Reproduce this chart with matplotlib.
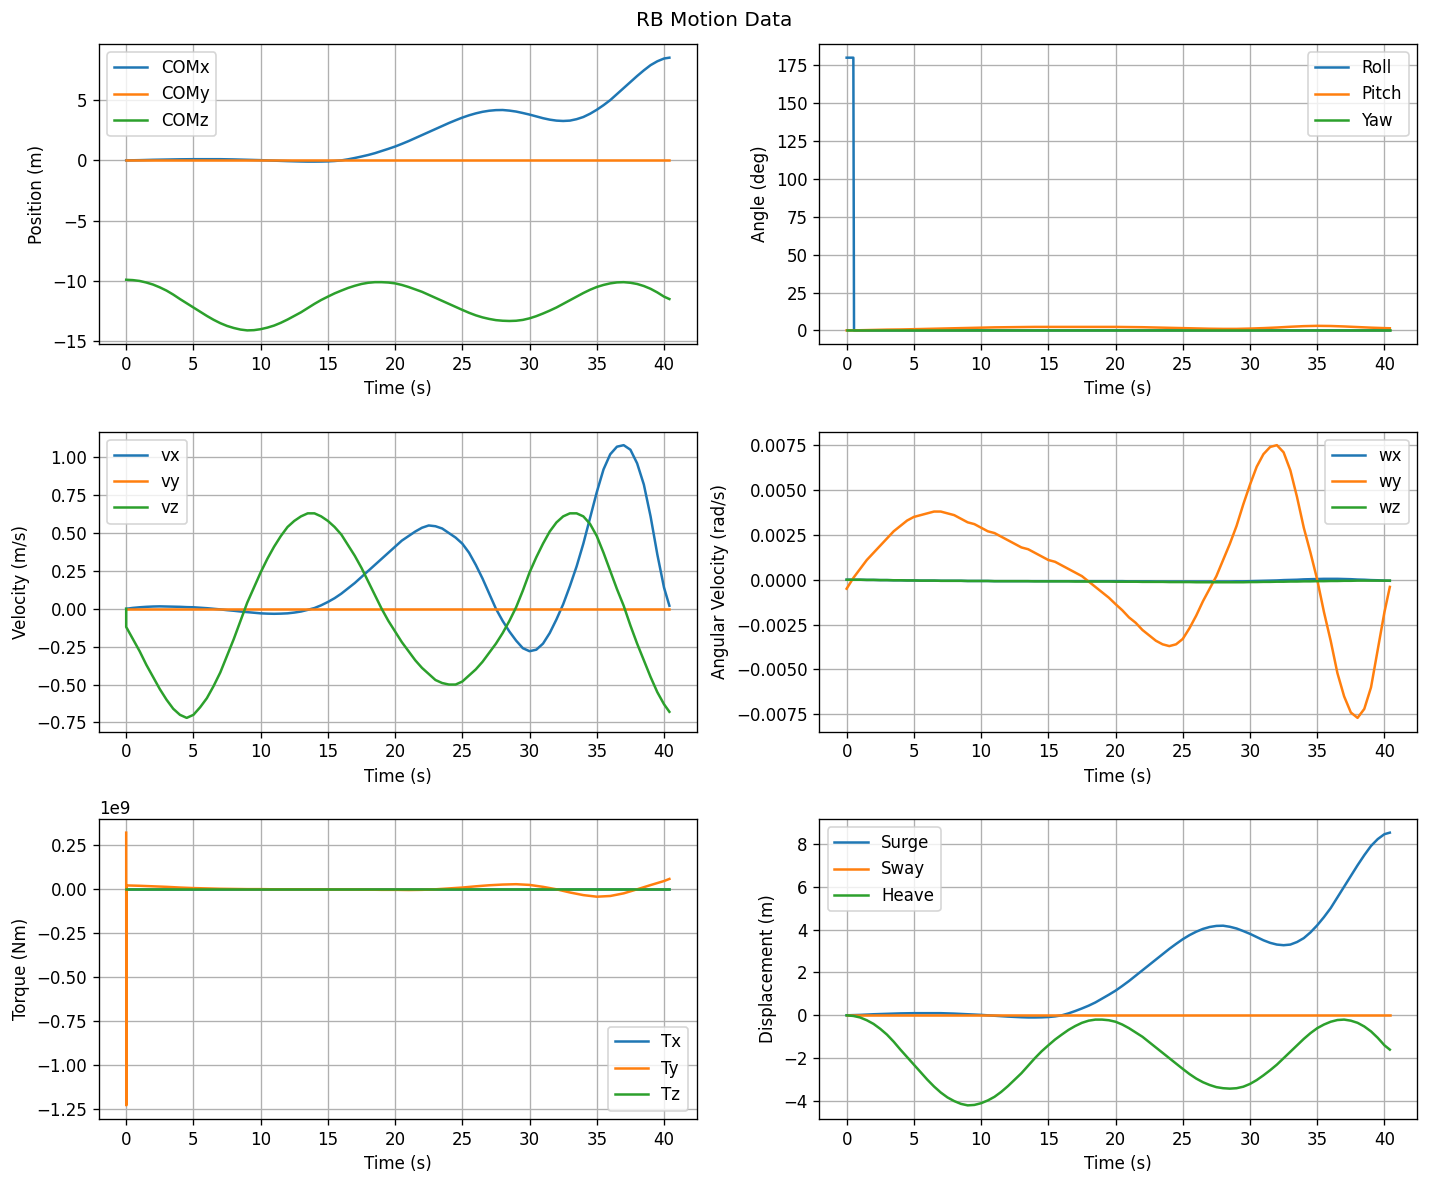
import matplotlib
matplotlib.use('Agg')
import matplotlib.pyplot as plt

# sampled time base (s), half-second readings
t = [0, 0.5, 1, 1.5, 2, 2.5, 3, 3.5, 4, 4.5, 5, 5.5, 6, 6.5, 7, 7.5, 8, 8.5, 9, 9.5,
     10, 10.5, 11, 11.5, 12, 12.5, 13, 13.5, 14, 14.5, 15, 15.5, 16, 16.5, 17, 17.5, 18, 18.5, 19, 19.5,
     20, 20.5, 21, 21.5, 22, 22.5, 23, 23.5, 24, 24.5, 25, 25.5, 26, 26.5, 27, 27.5, 28, 28.5, 29, 29.5,
     30, 30.5, 31, 31.5, 32, 32.5, 33, 33.5, 34, 34.5, 35, 35.5, 36, 36.5, 37, 37.5, 38, 38.5, 39, 39.5,
     40, 40.4]
n = len(t)

# position (m)
com_x = [0.0, 0.01, 0.02, 0.035, 0.05, 0.06, 0.07, 0.08, 0.09, 0.095,
         0.1, 0.1, 0.1, 0.1, 0.1, 0.09, 0.08, 0.065, 0.05, 0.035,
         0.02, 0.0, -0.02, -0.04, -0.06, -0.075, -0.09, -0.1, -0.1, -0.095,
         -0.08, -0.05, 0.0, 0.09, 0.2, 0.32, 0.45, 0.6, 0.78, 0.96,
         1.15, 1.37, 1.6, 1.85, 2.1, 2.35, 2.6, 2.85, 3.1, 3.33,
         3.55, 3.74, 3.9, 4.03, 4.12, 4.17, 4.18, 4.13, 4.05, 3.93,
         3.8, 3.65, 3.5, 3.38, 3.3, 3.27, 3.3, 3.42, 3.6, 3.87,
         4.2, 4.58, 5.0, 5.5, 6.0, 6.5, 7.0, 7.47, 7.9, 8.22,
         8.45, 8.52]
com_y = [0.0] * n
com_z = [-9.9, -9.93, -10.0, -10.13, -10.3, -10.53, -10.8, -11.13, -11.5, -11.85,
         -12.2, -12.55, -12.9, -13.22, -13.5, -13.73, -13.9, -14.03, -14.1, -14.08,
         -14.0, -13.87, -13.7, -13.47, -13.2, -12.9, -12.6, -12.25, -11.9, -11.58,
         -11.3, -11.03, -10.8, -10.58, -10.4, -10.25, -10.15, -10.1, -10.1, -10.13,
         -10.2, -10.33, -10.5, -10.7, -10.9, -11.15, -11.4, -11.65, -11.9, -12.15,
         -12.4, -12.64, -12.85, -13.02, -13.15, -13.25, -13.3, -13.32, -13.3, -13.23,
         -13.1, -12.92, -12.7, -12.46, -12.2, -11.9, -11.6, -11.3, -11.0, -10.73,
         -10.5, -10.33, -10.2, -10.12, -10.1, -10.15, -10.25, -10.42, -10.65, -10.95,
         -11.3, -11.5]

# euler angles (deg)
roll_t = [0, 0.5, 0.55, 40.4]
roll = [180, 180, 0, 0]
pitch_t = [0, 1, 2, 3, 4, 5, 6, 7, 8, 9, 10, 11, 12, 13, 14, 15, 16, 17, 18, 19, 20,
           21, 22, 23, 24, 25, 26, 27, 28, 29, 30, 31, 32, 33, 34, 35, 36, 37, 38, 39, 40, 40.4]
pitch = [0.0, 0.1, 0.3, 0.5, 0.6, 0.8, 1.0, 1.2, 1.4, 1.6, 1.8, 2.0, 2.1, 2.2, 2.3, 2.3, 2.3, 2.3,
         2.3, 2.3, 2.3, 2.2, 2.1, 1.9, 1.7, 1.5, 1.3, 1.1, 1.0, 1.0, 1.2, 1.5, 1.9, 2.4, 2.8, 3.0,
         2.9, 2.6, 2.2, 1.8, 1.5, 1.4]
yaw = [0.0] * len(pitch_t)

# linear velocity (m/s)
vx = [0.0, 0.006, 0.01, 0.013, 0.015, 0.016, 0.015, 0.014, 0.013, 0.011,
      0.01, 0.007, 0.004, 0.0, -0.004, -0.009, -0.013, -0.018, -0.022, -0.026,
      -0.03, -0.032, -0.033, -0.032, -0.03, -0.025, -0.018, -0.007, 0.005, 0.023,
      0.045, 0.07, 0.1, 0.135, 0.17, 0.21, 0.25, 0.29, 0.33, 0.37,
      0.41, 0.45, 0.48, 0.51, 0.535, 0.55, 0.545, 0.53, 0.5, 0.47,
      0.43, 0.37, 0.29, 0.2, 0.1, 0.0, -0.08, -0.15, -0.21, -0.26,
      -0.28, -0.27, -0.23, -0.16, -0.07, 0.03, 0.15, 0.28, 0.43, 0.6,
      0.77, 0.92, 1.02, 1.07, 1.08, 1.05, 0.96, 0.82, 0.61, 0.36,
      0.14, 0.02]
vy = [0.0] * n
vz = [-0.12, -0.2, -0.28, -0.37, -0.45, -0.53, -0.6, -0.66, -0.7, -0.72,
      -0.7, -0.65, -0.59, -0.51, -0.42, -0.31, -0.2, -0.08, 0.04, 0.14,
      0.24, 0.33, 0.41, 0.48, 0.54, 0.58, 0.61, 0.63, 0.63, 0.61,
      0.58, 0.54, 0.49, 0.42, 0.35, 0.27, 0.18, 0.09, 0.0, -0.08,
      -0.15, -0.22, -0.28, -0.34, -0.39, -0.43, -0.47, -0.49, -0.5, -0.5,
      -0.48, -0.44, -0.4, -0.35, -0.29, -0.23, -0.16, -0.08, 0.01, 0.12,
      0.24, 0.34, 0.43, 0.51, 0.57, 0.61, 0.63, 0.63, 0.61, 0.56,
      0.48, 0.37, 0.25, 0.13, 0.02, -0.11, -0.23, -0.34, -0.45, -0.55,
      -0.63, -0.68]
vz_start = 0.0

# angular velocity (rad/s)
wx = [0.0, 0.0, 0.0, -0.00001, -0.00001, -0.00002, -0.00002, -0.00003, -0.00003, -0.00004,
      -0.00004, -0.00005, -0.00005, -0.00005, -0.00006, -0.00006, -0.00006, -0.00006, -0.00007, -0.00007,
      -0.00007, -0.00007, -0.00008, -0.00008, -0.00008, -0.00008, -0.00008, -0.00008, -0.00008, -0.00008,
      -0.00008, -0.00008, -0.00008, -0.00008, -0.00008, -0.00008, -0.00008, -0.00008, -0.00008, -0.00008,
      -0.00008, -0.00008, -0.00009, -0.00009, -0.00009, -0.00009, -0.0001, -0.0001, -0.0001, -0.0001,
      -0.0001, -0.0001, -0.0001, -0.0001, -0.0001, -0.0001, -0.0001, -0.0001, -0.00009, -0.00009,
      -0.00008, -0.00007, -0.00006, -0.00005, -0.00004, -0.00002, -0.00001, 0.0, 0.00002, 0.00003,
      0.00004, 0.00005, 0.00005, 0.00005, 0.00004, 0.00003, 0.00001, 0.0, -0.00002, -0.00003,
      -0.00005, -0.00006]
wy = [-0.0005, 0.0001, 0.0006, 0.0011, 0.0015, 0.0019, 0.0023, 0.0027, 0.003, 0.0033,
      0.0035, 0.0036, 0.0037, 0.0038, 0.0038, 0.0037, 0.0036, 0.0034, 0.0032, 0.0031,
      0.0029, 0.0027, 0.0026, 0.0024, 0.0022, 0.002, 0.0018, 0.0017, 0.0015, 0.0013,
      0.0011, 0.001, 0.0008, 0.0006, 0.0004, 0.0002, -0.0001, -0.0004, -0.0007, -0.001,
      -0.00136, -0.0017, -0.0021, -0.0024, -0.0028, -0.0031, -0.0034, -0.0036, -0.0037, -0.0036,
      -0.0033, -0.0027, -0.002, -0.0012, -0.0005, 0.0002, 0.0011, 0.002, 0.003, 0.0042,
      0.0053, 0.0063, 0.007, 0.0074, 0.0075, 0.0071, 0.0061, 0.0046, 0.0029, 0.0015,
      0.0, -0.0018, -0.0034, -0.0052, -0.0065, -0.0074, -0.0077, -0.0072, -0.006, -0.0039,
      -0.0018, -0.0004]
wz = [0.0, 0.0, 0.0, -0.00001, -0.00001, -0.00002, -0.00002, -0.00003, -0.00003, -0.00004,
      -0.00004, -0.00005, -0.00005, -0.00005, -0.00006, -0.00006, -0.00006, -0.00006, -0.00007, -0.00007,
      -0.00007, -0.00007, -0.00008, -0.00008, -0.00008, -0.00008, -0.00008, -0.00008, -0.00009, -0.00009,
      -0.00009, -0.00009, -0.00009, -0.00009, -0.0001, -0.0001, -0.0001, -0.0001, -0.0001, -0.0001,
      -0.00011, -0.00011, -0.00011, -0.00011, -0.00012, -0.00012, -0.00012, -0.00012, -0.00013, -0.00013,
      -0.00013, -0.00013, -0.00014, -0.00014, -0.00014, -0.00014, -0.00014, -0.00014, -0.00014, -0.00014,
      -0.00013, -0.00013, -0.00012, -0.00012, -0.00011, -0.00011, -0.0001, -0.0001, -0.00009, -0.00009,
      -0.00008, -0.00008, -0.00007, -0.00007, -0.00006, -0.00006, -0.00005, -0.00005, -0.00005, -0.00005,
      -0.00005, -0.00005]

# torque (Nm), with the start-up spike
torque_t = [0, 0.01, 0.02, 0.05, 1, 2, 3, 4, 5, 6, 7, 8, 9, 10, 11, 12, 13, 14, 15, 16, 17, 18, 19,
            20, 21, 22, 23, 24, 25, 26, 27, 28, 29, 30, 31, 32, 33, 34, 35, 36, 37, 38, 39, 40, 40.4]
tx = [0.0] * len(torque_t)
ty = [0.32e9, -1.23e9, 0.02e9, 0.02e9, 0.018e9, 0.015e9, 0.012e9, 0.008e9, 0.005e9, 0.003e9,
      0.001e9, 0.0, -0.001e9, -0.001e9, -0.002e9, -0.002e9, -0.002e9, -0.002e9, -0.003e9,
      -0.003e9, -0.003e9, -0.004e9, -0.005e9, -0.005e9, -0.006e9, -0.005e9, -0.002e9, 0.003e9,
      0.008e9, 0.015e9, 0.021e9, 0.025e9, 0.027e9, 0.023e9, 0.012e9, -0.002e9, -0.02e9,
      -0.035e9, -0.044e9, -0.04e9, -0.025e9, -0.002e9, 0.022e9, 0.045e9, 0.057e9]
tz = [0.0] * len(torque_t)

# displacement (m)
surge = com_x
sway = [0.0] * n
heave = [0.0, -0.03, -0.1, -0.23, -0.4, -0.63, -0.9, -1.23, -1.6, -1.95,
         -2.3, -2.65, -3.0, -3.32, -3.6, -3.83, -4.0, -4.13, -4.2, -4.18,
         -4.1, -3.97, -3.8, -3.57, -3.3, -3.0, -2.7, -2.35, -2.0, -1.68,
         -1.4, -1.13, -0.9, -0.68, -0.5, -0.35, -0.25, -0.2, -0.2, -0.23,
         -0.3, -0.43, -0.6, -0.8, -1.0, -1.25, -1.5, -1.75, -2.0, -2.25,
         -2.5, -2.74, -2.95, -3.12, -3.25, -3.35, -3.4, -3.42, -3.4, -3.33,
         -3.2, -3.02, -2.8, -2.56, -2.3, -2.0, -1.7, -1.4, -1.1, -0.83,
         -0.6, -0.43, -0.3, -0.22, -0.2, -0.25, -0.35, -0.52, -0.75, -1.05,
         -1.4, -1.6]


fig, axs = plt.subplots(3, 2, figsize=(1429 / 120, 1184 / 120), dpi=120)
fig.suptitle('RB Motion Data', y=0.983, va='center')

ax = axs[0, 0]
ax.plot(t, com_x, label='COMx')
ax.plot(t, com_y, label='COMy')
ax.plot(t, com_z, label='COMz')
ax.set_ylabel('Position (m)')
ax.legend(loc='upper left')

ax = axs[0, 1]
ax.plot(roll_t, roll, label='Roll')
ax.plot(pitch_t, pitch, label='Pitch')
ax.plot(pitch_t, yaw, label='Yaw')
ax.set_ylabel('Angle (deg)')
ax.legend(loc='upper right')

ax = axs[1, 0]
ax.plot(t, vx, label='vx')
ax.plot(t, vy, label='vy')
ax.plot([0] + t, [vz_start] + vz, label='vz')
ax.set_ylabel('Velocity (m/s)')
ax.legend(loc='upper left')

ax = axs[1, 1]
ax.plot(t, wx, label='wx')
ax.plot(t, wy, label='wy')
ax.plot(t, wz, label='wz')
ax.set_ylabel('Angular Velocity (rad/s)')
ax.legend(loc='upper right')

ax = axs[2, 0]
ax.plot(torque_t, tx, label='Tx')
ax.plot(torque_t, ty, label='Ty')
ax.plot(torque_t, tz, label='Tz')
ax.set_ylabel('Torque (Nm)')
ax.legend(loc='lower right')

ax = axs[2, 1]
ax.plot(t, surge, label='Surge')
ax.plot(t, sway, label='Sway')
ax.plot(t, heave, label='Heave')
ax.set_ylabel('Displacement (m)')
ax.legend(loc='upper left')

for ax in axs.flat:
    ax.set_xlabel('Time (s)')
    ax.grid(True)

plt.subplots_adjust(left=0.0693, right=0.9916, top=0.9628, bottom=0.0549,
                    wspace=0.2057, hspace=0.2917)
plt.savefig('out.png')
